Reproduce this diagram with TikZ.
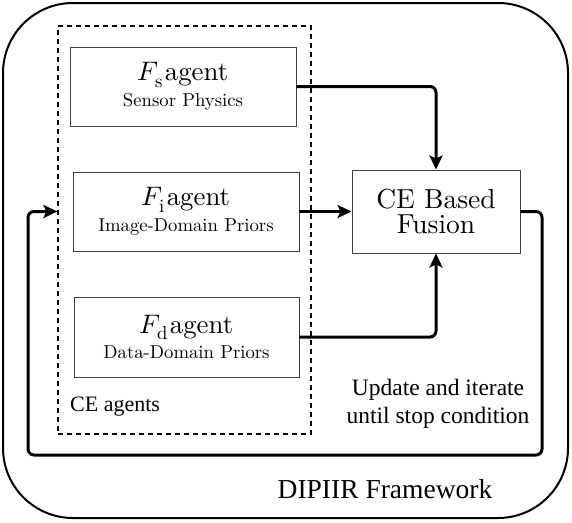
\documentclass[tikz,border=0pt]{standalone}
\usepackage{fontspec}
\usepackage{unicode-math}
\setmainfont{lmroman10-regular.otf}[ItalicFont=lmroman10-italic.otf, BoldFont=lmroman10-bold.otf]
\setmathfont{Latin Modern Math}
\newfontfamily\timesf{Liberation Serif}
\usetikzlibrary{arrows.meta}
\tikzset{
  agentbox/.style={draw=black!75, line width=0.9pt, minimum width=226pt, minimum height=79pt, align=center, inner sep=0pt},
  fusionbox/.style={draw=black!75, line width=0.9pt, minimum width=168pt, minimum height=83pt, align=center, inner sep=0pt, font=\fontsize{27.5}{29}\selectfont},
  flow/.style={line width=3pt, rounded corners=6pt, -{Stealth[length=14pt,width=13pt,inset=3pt]}},
  lbl/.style={align=center, inner sep=0pt},
}
\newcommand{\agtitle}[2]{{\fontsize{26.8}{26}\selectfont $F_{\mathrm{#1}}$\kern2pt agent}\\[5pt]{\fontsize{18.7}{20}\selectfont #2}}
\begin{document}
\begin{tikzpicture}[x=1pt,y=-1pt]
\useasboundingbox (0,0) rectangle (572,522);
\draw[line width=2pt, rounded corners=70pt] (3,3) rectangle (568,518);
\node[draw, dashed, line width=1.2pt, dash pattern=on 5pt off 4pt, minimum width=253pt, minimum height=408pt, inner sep=0pt] (agents) at (184.5,230) {};
\node[agentbox] (fs) at (183,86.5) {\agtitle{s}{Sensor Physics}};
\node[agentbox] (fi) at (186,211.5) {\agtitle{i}{Image-Domain Priors}};
\node[agentbox, minimum width=225pt, minimum height=80pt] (fd) at (186.5,337) {\agtitle{d}{Data-Domain Priors}};
\node[fusionbox] (fu) at (436,211.5) {CE Based\\[-4pt]Fusion};
\draw[flow] (fs.east) -| (fu.north);
\draw[flow] (fi.east |- fu.west) -- (fu.west);
\draw[flow] (fd.east) -| (fu.south);
\coordinate (c1) at (542,455);
\coordinate (c2) at (28,455);
\draw[flow] (fu.east) -| (c1) -- (c2) |- (agents.west |- fu.west);
\node[lbl, anchor=west, font=\timesf\fontsize{22}{28}\selectfont] (cel) at (70,407) {CE agents};
\node[lbl, font=\timesf\fontsize{23.5}{28}\selectfont] (upd) at (438,404) {Update and iterate\\until stop condition};
\node[lbl, font=\timesf\fontsize{27.5}{30}\selectfont] (dip) at (385,489) {DIPIIR Framework};
\end{tikzpicture}
\end{document}
